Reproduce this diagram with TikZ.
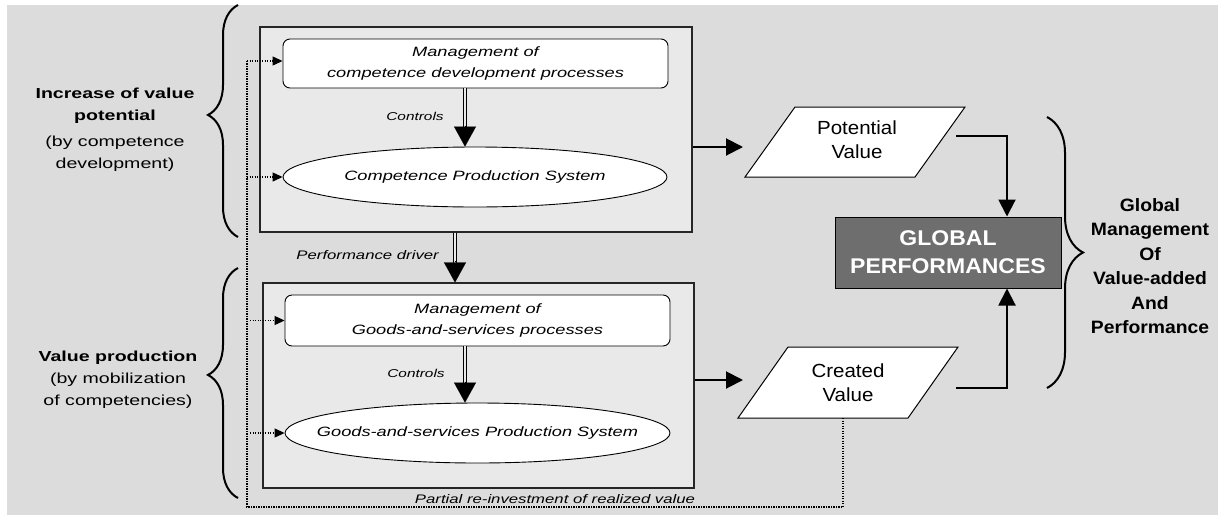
\documentclass[tikz,border=0pt]{standalone}
\usepackage{fontspec}
\setmainfont{Liberation Sans}
\newfontfamily\wf[FakeStretch=1.35]{Liberation Sans}
\newfontfamily\nf[FakeStretch=1.08]{Liberation Sans}
\usetikzlibrary{shapes.geometric,arrows.meta,decorations.pathreplacing,calc}
\definecolor{bgc}{HTML}{DCDCDC}
\definecolor{boxfill}{HTML}{E9E9E9}
\definecolor{gpfill}{HTML}{6E6E6E}
\begin{document}
\begin{tikzpicture}[x=1pt,y=-1pt,
  outerbox/.style={draw=black!85, line width=1.1pt, fill=boxfill, inner sep=0pt},
  procbox/.style={draw, line width=0.9pt, fill=white, rounded corners=7pt, inner sep=0pt, align=center,
     font=\wf\itshape\fontsize{13.5}{21}\selectfont},
  sysell/.style={ellipse, draw, line width=0.9pt, fill=white, inner sep=0pt},
  systext/.style={inner sep=0pt, font=\wf\itshape\fontsize{13.5}{21}\selectfont},
  italabel/.style={inner sep=0pt, font=\wf\itshape\fontsize{11.4}{13}\selectfont},
  smallital/.style={inner sep=0pt, font=\wf\itshape\fontsize{12.4}{14}\selectfont},
  dblline/.style={line width=1.2pt, double=boxfill, double distance=2.4pt},
  bighead/.style={line width=0.1pt, -{Triangle[width=22pt,length=20pt]}},
  arr/.style={line width=2pt, -{Triangle[width=17pt,length=17pt]}},
  dotline/.style={line width=1.2pt, dash pattern=on 1.2pt off 1.3pt},
  dotarr/.style={dotline, -{Triangle[width=9pt,length=10pt]}},
  para/.style={draw, line width=1pt, fill=white},
  paratext/.style={inner sep=0pt, align=center, font=\nf\fontsize{19}{24}\selectfont},
  bracestyle/.style={line width=2pt, decorate},
  lefttext/.style={inner sep=0pt, align=center, font=\wf\fontsize{14.5}{22}\selectfont},
  righttext/.style={inner sep=0pt, align=center, font=\nf\bfseries\fontsize{17.9}{24.4}\selectfont}
]
\useasboundingbox (0,0) rectangle (1225,517);
\fill[white] (0,0) rectangle (1225,517);
\fill[bgc] (7,5) rectangle (1218,515);

% outer boxes
\node[outerbox, minimum width=432pt, minimum height=205pt] (ubox) at (476,129.5) {};
\node[outerbox, minimum width=431pt, minimum height=205pt] (lbox) at (478.5,385.5) {};

% inner nodes
\node[procbox, minimum width=385pt, minimum height=49pt] (mcd) at (475.5,63.5)
  {Management of\\competence development processes};
\node[sysell, minimum width=384pt, minimum height=60pt] (cps) at (475,177) {};
\node[systext] (cpst) at (cps.center) {Competence Production System};
\node[procbox, minimum width=385pt, minimum height=51pt] (mgs) at (477.5,320.5)
  {Management of\\Goods-and-services processes};
\node[sysell, minimum width=385pt, minimum height=60pt] (gps) at (477.5,433) {};
\node[systext] (gpst) at (gps.center) {Goods-and-services Production System};

% controls arrows
\coordinate (c1s) at ([xshift=-10.5pt]mcd.south);
\coordinate (c1e) at (c1s |- cps.north);
\draw[dblline] (c1s) -- ($(c1e)+(0,-18)$);
\draw[bighead] ($(c1e)+(0,-21)$) -- (c1e);
\node[italabel] (ctl1) at (415,116) {Controls};

\coordinate (c2s) at ([xshift=-12.5pt]mgs.south);
\coordinate (c2e) at (c2s |- gps.north);
\draw[dblline] (c2s) -- ($(c2e)+(0,-18)$);
\draw[bighead] ($(c2e)+(0,-21)$) -- (c2e);
\node[italabel] (ctl2) at (416,373) {Controls};

% performance driver
\coordinate (pds) at ([xshift=-21pt]ubox.south);
\coordinate (pde) at (pds |- lbox.north);
\draw[dblline] (pds) -- ($(pde)+(0,-18)$);
\draw[bighead] ($(pde)+(0,-21)$) -- (pde);
\node[smallital, anchor=east] (pdl) at (439,255) {Performance driver};

% parallelograms
\draw[para] (745,177) -- (795,107) -- (965,107) -- (915,177) -- cycle;
\node[paratext] (pv) at (857,140) {Potential\\Value};
\draw[para] (738,418) -- (788,347) -- (958,347) -- (908,418) -- cycle;
\node[paratext] (cv) at (848,382.5) {Created\\Value};

% arrows to parallelograms
\coordinate (pvin) at (743,147);
\coordinate (cvin) at (743,380);
\draw[arr] ([yshift=-17.5pt]ubox.east) -- (pvin);
\draw[arr] ([yshift=5.5pt]lbox.east) -- (cvin);

% global performances
\node[draw, line width=1pt, fill=gpfill, minimum width=226pt, minimum height=71pt, inner sep=0pt,
  align=center, text=white, font=\nf\bfseries\fontsize{21.3}{28}\selectfont] (gp) at (948,252.5)
  {GLOBAL\\PERFORMANCES};
\coordinate (pvout) at (956,136);
\coordinate (cvout) at (956,388);
\draw[arr] (pvout) -| ([xshift=59pt]gp.north);
\draw[arr] (cvout) -| ([xshift=59pt]gp.south);

% right brace and text
\coordinate (rb1) at (1047,117);
\coordinate (rb2) at (1047,388);
\draw[bracestyle, decoration={brace, amplitude=36pt, aspect=0.5}] (rb1) -- (rb2);
\node[righttext] (gm) at (1150,266) {Global\\Management\\Of\\Value-added\\And\\Performance};

% left braces and text
\coordinate (lb1a) at (238,237);
\coordinate (lb1b) at (238,5);
\draw[bracestyle, decoration={brace, amplitude=30pt, aspect=0.526}] (lb1a) -- (lb1b);
\coordinate (lb2a) at (238,498);
\coordinate (lb2b) at (238,268);
\draw[bracestyle, decoration={brace, amplitude=30pt, aspect=0.535}] (lb2a) -- (lb2b);
\node[lefttext] (ivp) at (115,130) {\bfseries Increase of value\\\bfseries potential\\[4pt](by competence\\development)};
\node[lefttext] (vp) at (118,380) {\bfseries Value production\\(by mobilization\\of competencies)};

% dotted re-investment loop
\coordinate (cvb) at (843,418);
\coordinate (fbr) at (843,507);
\coordinate (fbl) at (247,507);
\coordinate (fbt) at (247,61);
\draw[dotline] (cvb) -- (fbr) -- (fbl) -- (fbt);
\draw[dotarr] (fbt) -- ([yshift=2.5pt]mcd.west);
\draw[dotarr] (fbl |- cps.west) -- (cps.west);
\draw[dotarr] ([xshift=3pt]fbl |- mgs.west) -- (mgs.west);
\draw[dotarr] ([xshift=3pt]fbl |- gps.west) -- (gps.west);
\node[smallital] (prv) at (555,499) {Partial re-investment of realized value};
\end{tikzpicture}
\end{document}
